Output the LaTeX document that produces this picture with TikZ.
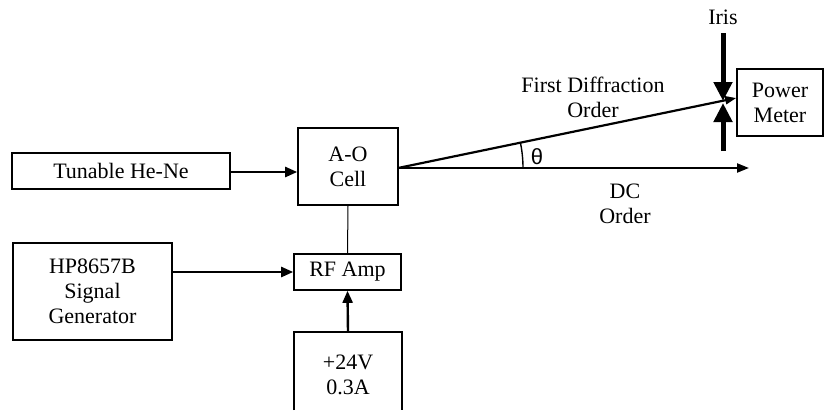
\documentclass[tikz,border=0pt]{standalone}
\usepackage{fontspec}
\setmainfont{Liberation Serif}
\newfontfamily\thetafont{Liberation Sans}
\usetikzlibrary{arrows.meta,calc}
\begin{document}
\begin{tikzpicture}[x=1pt,y=-1pt,
  box/.style={draw,line width=1.6pt,rectangle,inner sep=0pt,align=center},
  lbl/.style={inner sep=0pt,align=center},
  arr/.style={line width=2.4pt,-{Triangle[length=12pt,width=10pt]}},
  irisarr/.style={line width=5pt,-{Triangle[length=19pt,width=18pt]}},
  beam/.style={line width=2.2pt},
  font=\fontsize{22}{25}\selectfont]
\useasboundingbox (0,0) rectangle (827,410);
% boxes
\node[box,minimum width=218pt,minimum height=36pt] (he) at (121,171) {Tunable He-Ne};
\node[box,minimum width=100pt,minimum height=77pt] (ao) at (348,166.5) {A-O\\Cell};
\node[box,minimum width=159pt,minimum height=97pt] (hp) at (92.5,291.5) {HP8657B\\Signal\\Generator};
\node[box,minimum width=107pt,minimum height=36pt] (rf) at (347.5,272) {RF Amp};
\node[lbl,minimum width=108pt,minimum height=78pt] (ps) at (348,371) {};
\node[lbl] (pstext) at (348,375) {+24V\\0.3A};
\draw[line width=1.6pt] (ps.south west) -- (ps.north west) -- (ps.north east) -- (ps.south east);
\node[box,minimum width=86pt,minimum height=67pt] (pm) at (780,102.5) {Power\\Meter};
% connectors
\draw[arr] (he.east |- 0,172) -- (ao.west |- 0,172);
\draw[arr] (rf.west -| hp.east) -- (rf.west);
\draw[line width=1pt] (ao.south) -- (rf.north);
\draw[arr] (ps.north) -- (rf.south);
% beams
\coordinate (o) at (398,168);
\coordinate (dcend) at (749,168);
\coordinate (fdend) at (pm.west |- 0,98);
\draw[beam,-{Triangle[length=12pt,width=9pt]}] (o) -- (dcend);
\draw[beam,-{Triangle[length=11pt,width=8pt]}] (o) -- (fdend);
\draw[line width=1.4pt] ($(o)+(125,0)$) arc[start angle=0,end angle=-11.6,radius=125];
% iris
\coordinate (it1) at (723,33);
\coordinate (it2) at (723,101);
\coordinate (ib1) at (723,151);
\coordinate (ib2) at (723,103);
\draw[irisarr] (it1) -- (it2);
\draw[irisarr] (ib1) -- (ib2);
% labels
\node[lbl] (iris) at (723,17) {Iris};
\node[lbl] (fd) at (593,97) {First Diffraction\\Order};
\node[lbl] (dc) at (625,204) {DC\\Order};
\node[lbl,font=\thetafont\fontsize{22}{24}\selectfont] (th) at (537,157) {θ};
\end{tikzpicture}
\end{document}
